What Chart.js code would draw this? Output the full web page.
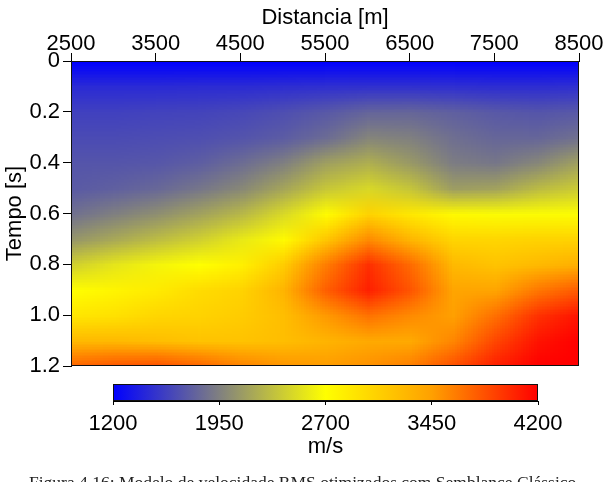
<!DOCTYPE html>
<html>
<head>
<meta charset="utf-8">
<script src="https://cdn.jsdelivr.net/npm/chart.js@4.4.1/dist/chart.umd.min.js"></script>
<style>
  html, body { margin: 0; padding: 0; background: #fff; overflow: hidden; }
  #wrap { position: relative; width: 606px; height: 482px; }
  #wrap canvas { position: absolute; left: 0; top: 0; }
</style>
</head>
<body>
<div id="wrap">
  <canvas id="velocity-chart" width="606" height="482"></canvas>
  <canvas id="colorbar-chart" width="606" height="482"></canvas>
</div>
<script>
// Grid positions (cell centres)
const distances = [2500, 3000, 3500, 4000, 4500, 5000, 5500, 6000, 6500, 7000, 7500, 8000, 8500];
const times = [0, 0.1, 0.2, 0.3, 0.4, 0.5, 0.6, 0.7, 0.8, 0.9, 1.0, 1.1, 1.2];

// RMS velocity (m/s), one row per time sample
const vel_t00 = [1200, 1200, 1200, 1200, 1200, 1200, 1200, 1200, 1200, 1200, 1200, 1200, 1200];
const vel_t01 = [1450, 1450, 1450, 1460, 1460, 1470, 1480, 1490, 1490, 1480, 1470, 1470, 1480];
const vel_t02 = [1580, 1580, 1590, 1600, 1620, 1660, 1720, 1790, 1800, 1760, 1720, 1700, 1720];
const vel_t03 = [1640, 1640, 1650, 1660, 1690, 1740, 1830, 1980, 1950, 1850, 1800, 1800, 1860];
const vel_t04 = [1700, 1700, 1710, 1750, 1840, 1950, 2140, 2230, 2100, 1930, 1900, 1990, 2150];
const vel_t05 = [1730, 1760, 1810, 1890, 2000, 2170, 2370, 2470, 2360, 2120, 2150, 2300, 2400];
const vel_t06 = [1860, 1950, 2040, 2150, 2280, 2480, 2720, 3050, 2880, 2740, 2680, 2680, 2690];
const vel_t07 = [2080, 2190, 2310, 2420, 2570, 2740, 3150, 3550, 3280, 3030, 3020, 3050, 3050];
const vel_t08 = [2430, 2550, 2640, 2700, 2820, 3100, 3620, 3980, 3700, 3250, 3170, 3250, 3330];
const vel_t09 = [2700, 2780, 2860, 2980, 3050, 3290, 3760, 4050, 3800, 3410, 3410, 3640, 3780];
const vel_t10 = [2900, 2940, 3020, 3050, 3100, 3210, 3480, 3660, 3550, 3450, 3680, 3970, 4110];
const vel_t11 = [3250, 3250, 3210, 3170, 3170, 3210, 3290, 3370, 3370, 3570, 3870, 4110, 4200];
const vel_t12 = [3730, 3800, 3830, 3730, 3590, 3500, 3470, 3520, 3610, 3830, 4060, 4200, 4200];
const velocityRows = [vel_t00, vel_t01, vel_t02, vel_t03, vel_t04, vel_t05, vel_t06,
                      vel_t07, vel_t08, vel_t09, vel_t10, vel_t11, vel_t12];

// Axis ticks
const distanceTicks = [2500, 3500, 4500, 5500, 6500, 7500, 8500];
const timeTicks = [0, 0.2, 0.4, 0.6, 0.8, 1.0, 1.2];
const velocityTicks = [1200, 1950, 2700, 3450, 4200];

// Colour map anchors
const cmapValues = [1200, 1950, 2700, 3450, 4200];
const cmapRGB = [[0, 0, 255], [128, 128, 128], [255, 255, 0], [255, 160, 0], [255, 0, 0]];

const FONT = '"Liberation Sans", Arial, sans-serif';
Chart.defaults.font.family = FONT;
Chart.defaults.color = '#000';

function colorFor(v) {
    const n = cmapValues.length;
    if (v <= cmapValues[0]) return cmapRGB[0];
    if (v >= cmapValues[n - 1]) return cmapRGB[n - 1];
    for (let i = 0; i < n - 1; i++) {
        if (v <= cmapValues[i + 1]) {
            const f = (v - cmapValues[i]) / (cmapValues[i + 1] - cmapValues[i]);
            const a = cmapRGB[i], b = cmapRGB[i + 1];
            return [0, 1, 2].map(k => Math.round(a[k] + (b[k] - a[k]) * f));
        }
    }
}

function rgbStr(c) { return `rgb(${c[0]},${c[1]},${c[2]})`; }

// Paints the velocity grid as an image scaled onto the chart's own scales
const heatmapPlugin = {
    id: 'heatmap',
    beforeDatasetsDraw(chart) {
        const { ctx, chartArea, scales: { x, y } } = chart;
        const nx = distances.length, ny = times.length;
        const off = document.createElement('canvas');
        off.width = nx; off.height = ny;
        const octx = off.getContext('2d');
        const img = octx.createImageData(nx, ny);
        velocityRows.forEach((row, j) => {
            row.forEach((v, i) => {
                const c = colorFor(v);
                const p = (j * nx + i) * 4;
                img.data[p] = c[0]; img.data[p + 1] = c[1]; img.data[p + 2] = c[2]; img.data[p + 3] = 255;
            });
        });
        octx.putImageData(img, 0, 0);
        const dx = (distances[1] - distances[0]) / 2;
        const dy = (times[1] - times[0]) / 2;
        const x0 = x.getPixelForValue(distances[0] - dx);
        const x1 = x.getPixelForValue(distances[nx - 1] + dx);
        const y0 = y.getPixelForValue(times[0] - dy);
        const y1 = y.getPixelForValue(times[ny - 1] + dy);
        ctx.save();
        ctx.beginPath();
        ctx.rect(chartArea.left, chartArea.top, chartArea.width, chartArea.height);
        ctx.clip();
        ctx.imageSmoothingEnabled = true;
        ctx.drawImage(off, x0, y0, x1 - x0, y1 - y0);
        ctx.restore();
    }
};

const frameBorder = {
    id: 'frameBorder',
    afterDraw(chart) {
        const { ctx, chartArea: a } = chart;
        ctx.save();
        ctx.strokeStyle = '#111';
        ctx.lineWidth = 1;
        ctx.strokeRect(a.left + 0.5, a.top + 0.5, a.width - 1, a.height - 1);
        ctx.restore();
    }
};

// Gradient bar along the colour bar's x scale
const colorbarPlugin = {
    id: 'colorbar',
    beforeDatasetsDraw(chart) {
        const { ctx, chartArea: a, scales: { x } } = chart;
        const x0 = x.getPixelForValue(cmapValues[0]);
        const x1 = x.getPixelForValue(cmapValues[cmapValues.length - 1]);
        const grad = ctx.createLinearGradient(x0, 0, x1, 0);
        cmapValues.forEach((v, i) => grad.addColorStop((v - cmapValues[0]) / (cmapValues[cmapValues.length - 1] - cmapValues[0]), rgbStr(cmapRGB[i])));
        ctx.save();
        ctx.fillStyle = grad;
        ctx.fillRect(a.left, a.top, a.width, a.height);
        ctx.restore();
    },
    afterDraw(chart) {
        const ctx = chart.ctx;
        ctx.save();
        ctx.font = '17.5px "Liberation Serif", "Times New Roman", serif';
        ctx.fillStyle = '#222';
        ctx.textBaseline = 'alphabetic';
        ctx.textAlign = 'left';
        ctx.fillText('Figura 4.16: Modelo de velocidade RMS otimizados com Semblance Clássico', 29, 488);
        ctx.restore();
    }
};

const tickFont = { size: 22 };

new Chart(document.getElementById('velocity-chart'), {
    type: 'scatter',
    data: {
        datasets: [{
            data: distances.flatMap(d => times.map(t => ({ x: d, y: t }))),
            pointRadius: 0
        }]
    },
    options: {
        responsive: false,
        animation: false,
        layout: { padding: { left: 0, top: 0, right: 27, bottom: 116 } },
        plugins: { legend: { display: false }, tooltip: { enabled: false } },
        scales: {
            x: {
                type: 'linear',
                position: 'top',
                min: distances[0],
                max: distances[distances.length - 1],
                afterBuildTicks: (s) => { s.ticks = distanceTicks.map(v => ({ value: v })); },
                afterFit: (s) => { s.height = 61; },
                ticks: { font: tickFont, padding: -4, maxRotation: 0, callback: (v) => String(v) },
                grid: { drawOnChartArea: false, tickLength: 8, color: '#000' },
                border: { display: true, color: '#000' },
                title: { display: true, text: 'Distancia [m]', font: { size: 22 }, padding: { top: 5, bottom: 0 } }
            },
            y: {
                type: 'linear',
                reverse: true,
                min: times[0],
                max: times[times.length - 1],
                afterBuildTicks: (s) => { s.ticks = timeTicks.map(v => ({ value: v })); },
                afterFit: (s) => { s.width = 71; },
                ticks: { font: tickFont, padding: 3, callback: (v) => v === 0 ? '0' : v.toFixed(1) },
                grid: { drawOnChartArea: false, tickLength: 8, color: '#000' },
                border: { display: true, color: '#000' },
                title: { display: true, text: 'Tempo [s]', font: { size: 22 }, padding: { top: 2, bottom: 0 } }
            }
        }
    },
    plugins: [heatmapPlugin, frameBorder]
});

new Chart(document.getElementById('colorbar-chart'), {
    type: 'scatter',
    data: { datasets: [{ data: velocityTicks.map(v => ({ x: v, y: 0 })), pointRadius: 0 }] },
    options: {
        responsive: false,
        animation: false,
        layout: { padding: { left: 113, top: 384, right: 68, bottom: 22 } },
        plugins: { legend: { display: false }, tooltip: { enabled: false } },
        scales: {
            x: {
                type: 'linear',
                position: 'bottom',
                min: velocityTicks[0],
                max: velocityTicks[velocityTicks.length - 1],
                afterBuildTicks: (s) => { s.ticks = velocityTicks.map(v => ({ value: v })); },
                afterFit: (s) => { s.height = 59; },
                ticks: { font: tickFont, padding: 6, maxRotation: 0, callback: (v) => String(v) },
                grid: { drawOnChartArea: false, tickLength: 4, color: '#000' },
                border: { display: true, color: '#000' },
                title: { display: true, text: 'm/s', font: { size: 22 }, padding: { top: 0, bottom: 0 } }
            },
            y: { display: false, min: -1, max: 1 }
        }
    },
    plugins: [colorbarPlugin, frameBorder]
});
</script>
</body>
</html>
